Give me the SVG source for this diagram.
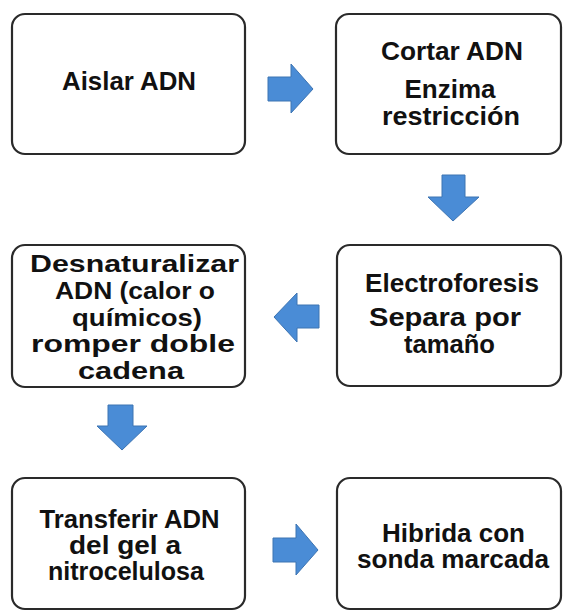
<svg xmlns="http://www.w3.org/2000/svg" width="564" height="612" viewBox="0 0 564 612">
<style>
.box{fill:#fff;stroke:#2a2a2a;stroke-width:2.2}
.t{font-family:"Liberation Sans",Arial,sans-serif;font-weight:bold;font-size:25px;fill:#111;text-anchor:middle}
.s{font-size:24px}
.arr{fill:#4a8cd6;stroke:#3d74b2;stroke-width:1}
</style>
<rect width="564" height="612" fill="#fff"/>
<g id="n1"><rect class="box" x="12" y="14" width="233" height="140" rx="13"/>
<text class="t" x="129" y="90" textLength="134" lengthAdjust="spacingAndGlyphs">Aislar ADN</text></g>
<g id="n2"><rect class="box" x="336" y="14" width="225" height="140" rx="13"/>
<text class="t" x="452" y="60" textLength="142" lengthAdjust="spacingAndGlyphs">Cortar ADN</text>
<text class="t" x="450" y="98" textLength="91" lengthAdjust="spacingAndGlyphs">Enzima</text>
<text class="t" x="451" y="125" textLength="138" lengthAdjust="spacingAndGlyphs">restricción</text></g>
<g id="n3"><rect class="box" x="12" y="245" width="233" height="142" rx="13"/>
<text class="t s" x="134.5" y="272" textLength="209" lengthAdjust="spacingAndGlyphs">Desnaturalizar</text>
<text class="t s" x="135" y="299" textLength="160" lengthAdjust="spacingAndGlyphs">ADN (calor o</text>
<text class="t s" x="137" y="326" textLength="130" lengthAdjust="spacingAndGlyphs">químicos)</text>
<text class="t s" x="133" y="352" textLength="204" lengthAdjust="spacingAndGlyphs">romper doble</text>
<text class="t s" x="131" y="379" textLength="106" lengthAdjust="spacingAndGlyphs">cadena</text></g>
<g id="n4"><rect class="box" x="337" y="245" width="224" height="141" rx="13"/>
<text class="t" x="452" y="292" textLength="174" lengthAdjust="spacingAndGlyphs">Electroforesis</text>
<text class="t" x="445" y="326" textLength="152" lengthAdjust="spacingAndGlyphs">Separa por</text>
<text class="t" x="449.5" y="353" textLength="91" lengthAdjust="spacingAndGlyphs">tamaño</text></g>
<g id="n5"><rect class="box" x="12" y="478" width="233" height="131" rx="13"/>
<text class="t" x="129.5" y="528" textLength="180" lengthAdjust="spacingAndGlyphs">Transferir ADN</text>
<text class="t" x="125" y="554" textLength="112" lengthAdjust="spacingAndGlyphs">del gel a</text>
<text class="t" x="126" y="580" textLength="156" lengthAdjust="spacingAndGlyphs">nitrocelulosa</text></g>
<g id="n6"><rect class="box" x="337" y="478" width="224" height="131" rx="13"/>
<text class="t" x="453.5" y="542" textLength="143" lengthAdjust="spacingAndGlyphs">Hibrida con</text>
<text class="t" x="453" y="568" textLength="192" lengthAdjust="spacingAndGlyphs">sonda marcada</text></g>
<g id="connectors">
<polygon class="arr" points="268,77 291,77 291,64 313,89 291,113 291,101 268,101"/>
<polygon class="arr" points="442,175 465,175 465,197 479,197 453,221 428,197 442,197"/>
<polygon class="arr" points="319,305 297,305 297,293 274,317 297,342 297,328 319,328"/>
<polygon class="arr" points="108,405 133,405 133,426 147,426 122,450 97,426 108,426"/>
<polygon class="arr" points="273,538 296,538 296,524 318,550 296,575 296,562 273,562"/>
</g>
</svg>
